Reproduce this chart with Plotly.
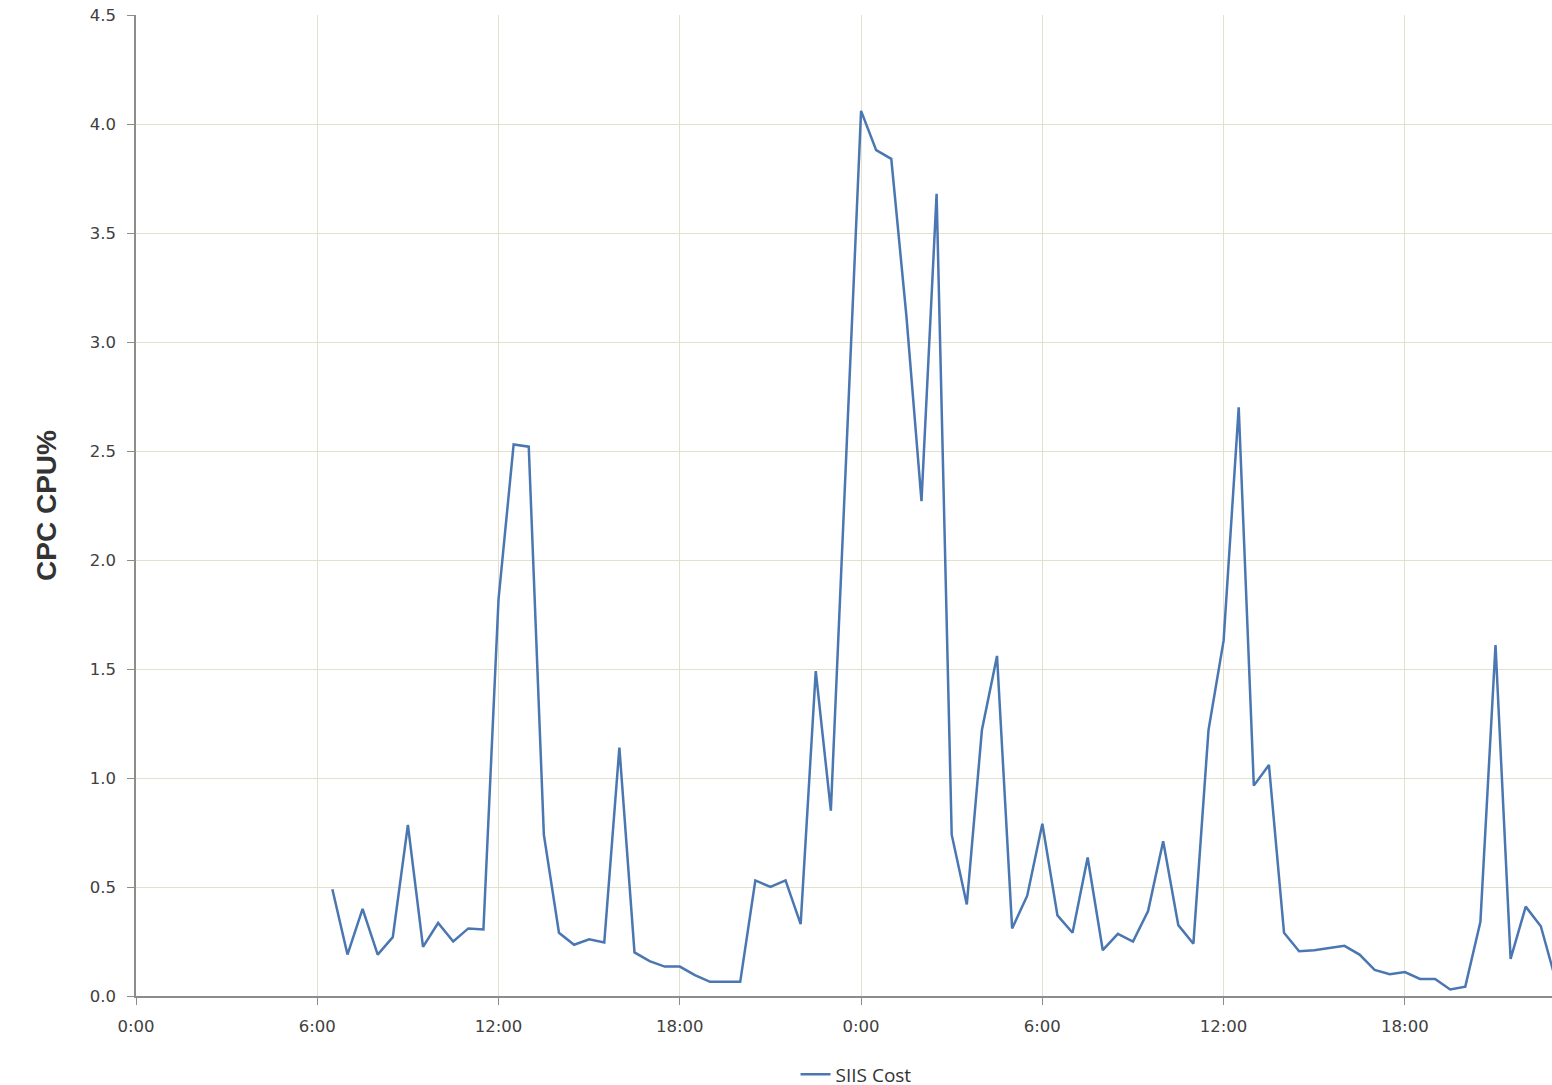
import plotly.graph_objects as go

# time in hours since first 0:00 (half-hour samples)
hours = [6.5 + 0.5 * i for i in range(82)]
siis_cost = [
    0.49, 0.19, 0.40, 0.19, 0.27, 0.785, 0.225, 0.335, 0.25, 0.31, 0.305,   # 6.5 - 11.5
    1.82, 2.53, 2.52, 0.74, 0.29, 0.235, 0.26, 0.245, 1.14, 0.20, 0.16,     # 12.0 - 17.0
    0.135, 0.135, 0.096, 0.065, 0.065, 0.065, 0.53, 0.50, 0.53, 0.33,       # 17.5 - 22.0
    1.49, 0.85, 2.45, 4.06, 3.88, 3.84, 3.12, 2.27, 3.68, 0.74, 0.42,       # 22.5 - 27.5
    1.22, 1.56, 0.31, 0.46, 0.79, 0.37, 0.29, 0.635, 0.21, 0.285, 0.25,     # 28.0 - 33.0
    0.39, 0.71, 0.325, 0.24, 1.22, 1.63, 2.70, 0.965, 1.06, 0.29, 0.205,    # 33.5 - 38.5
    0.21, 0.22, 0.23, 0.19, 0.12, 0.10, 0.11, 0.078, 0.078, 0.03, 0.043,    # 39.0 - 44.0
    0.34, 1.61, 0.17, 0.41, 0.32, 0.07,                                     # 44.5 - 47.0
]
x_tick_vals = [0, 6, 12, 18, 24, 30, 36, 42]
x_tick_text = ["0:00", "6:00", "12:00", "18:00", "0:00", "6:00", "12:00", "18:00"]
y_tick_vals = [0.0, 0.5, 1.0, 1.5, 2.0, 2.5, 3.0, 3.5, 4.0, 4.5]
y_tick_text = ["0.0", "0.5", "1.0", "1.5", "2.0", "2.5", "3.0", "3.5", "4.0", "4.5"]

fig = go.Figure()
fig.add_trace(go.Scatter(
    x=hours, y=siis_cost, mode="lines", name="SIIS Cost",
    line=dict(color="#4a76b2", width=2.5),
))

grid = "#e2e2cb"
axis_col = "#8c8c8c"
tick_font = dict(family="DejaVu Sans", size=16.5, color="#404040")

fig.update_layout(
    width=1552, height=1094,
    margin=dict(l=136, r=0, t=15, b=90),
    paper_bgcolor="white", plot_bgcolor="white",
    showlegend=True,
    legend=dict(orientation="h", x=0.5085, xanchor="center", y=-0.08, yanchor="middle",
                font=dict(family="Open Sans", size=19, color="#333333"),
                itemwidth=30),
    xaxis=dict(
        range=[0, 46.87], tickvals=x_tick_vals, ticktext=x_tick_text,
        showgrid=True, gridcolor=grid, gridwidth=1.2,
        showline=True, linecolor=axis_col, linewidth=1.5,
        ticks="outside", ticklen=7, tickcolor=axis_col,
        ticklabelstandoff=7,
        tickfont=tick_font, zeroline=False,
    ),
    yaxis=dict(
        range=[0, 4.5], tickvals=y_tick_vals, ticktext=y_tick_text,
        showgrid=True, gridcolor=grid, gridwidth=1.2,
        showline=True, linecolor=axis_col, linewidth=1.5,
        ticks="outside", ticklen=7, tickcolor=axis_col,
        ticklabelstandoff=8,
        tickfont=tick_font, zeroline=False,
        title=dict(text="<b>CPC CPU%</b>\u00a0\u00a0\u00a0\u00a0", standoff=25,
                   font=dict(family="Liberation Sans", size=28, color="#333333")),
    ),
)

fig.write_html("out.html", config={"displayModeBar": False},
               post_script="document.body.style.margin='0px';")
